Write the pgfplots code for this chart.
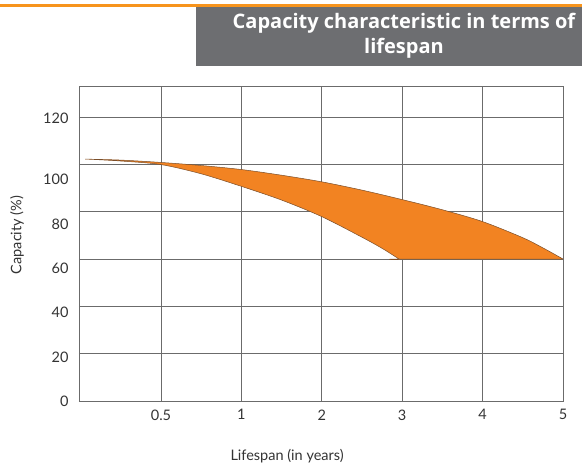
\documentclass[border=0pt]{standalone}
\usepackage{fontspec}
\setmainfont{Lato}
\newfontfamily\titlefont{Open Sans}
\usepackage{pgfplots}
\pgfplotsset{compat=1.18}

\definecolor{gridgray}{HTML}{6B6B6B}
\definecolor{txtgray}{HTML}{333333}
\definecolor{fillorange}{HTML}{F28322}
\definecolor{edgebrown}{HTML}{7A4E2A}
\definecolor{boxgray}{HTML}{6D6E71}
\definecolor{lineorange}{HTML}{F7941D}

\begin{document}
\begin{tikzpicture}
% page frame, 1pt = 1px of the reference
\path[use as bounding box] (-79pt,-63pt) rectangle (503pt,401pt);

% title banner
\fill[boxgray] (117pt,335pt) rectangle (503pt,394.3pt);
\draw[lineorange, line width=2.4pt] (-79pt,395.5pt) -- (503pt,395.5pt);
\node[anchor=base, text=white, font=\titlefont\fontsize{20}{22}\selectfont\bfseries]
  at (325pt,372.7pt) {Capacity characteristic in terms of};
\node[anchor=base, text=white, font=\titlefont\fontsize{20}{22}\selectfont\bfseries]
  at (325pt,347.7pt) {lifespan};

\begin{axis}[
  at={(0pt,0pt)}, anchor=south west,
  scale only axis,
  width=484pt, height=315pt,
  xmin=-0.02, xmax=6,
  ymin=0, ymax=133.1,
  axis line style={gridgray, line width=0.8pt},
  major tick length=0pt,
  xtick={1,2,3,4,5,6},
  xticklabels={0.5,1,2,3,4,5},
  ytick={0,20,40,60,80,100,120},
  yticklabels={,,,,,,},
  extra y ticks={0,18.6,37.6,56.2,74.8,93.8,119.6},
  extra y tick labels={0,20,40,60,80,100,120},
  extra y tick style={grid=none},
  xmajorgrids=true, ymajorgrids=true,
  grid style={gridgray, line width=0.8pt},
  /pgf/number format/assume math mode=true,
  tick label style={text=txtgray, font=\fontsize{14.5}{16}\selectfont},
  xticklabel style={yshift=-5pt},
  yticklabel style={xshift=-7pt},
  label style={text=txtgray, font=\fontsize{14.5}{16}\selectfont},
  xlabel={Lifespan (in years)},
  xlabel style={at={(axis description cs:0.43,-0.19)}, anchor=base},
  ylabel={Capacity (\%)},
  ylabel style={at={(axis description cs:-0.128,0.527)}, anchor=center},
]
% capacity band: upper limit left to right, then lower limit back;
% corner points are repeated so that the smoothing keeps them sharp
\addplot[fill=fillorange, draw=edgebrown, line width=0.5pt, smooth, tension=0.5] coordinates {
  (0.08,102.2) (0.08,102.2)
  (0.5,101.8) (1,100.8) (1.5,99.5) (2,97.8) (2.5,95.4)
  (3,92.6) (3.5,89.1) (4,85.1) (4.5,80.8) (5,75.8) (5.5,69.0)
  (5.75,64.7) (6,60) (6,60)
  (3.96,60) (3.96,60)
  (3.75,64.5) (3.5,69.2) (3,77.9) (2.5,84.9) (2,90.7)
  (1.5,96.0) (1,99.9) (0.5,101.4)
  (0.08,102.2) (0.08,102.2)
};
\end{axis}
\end{tikzpicture}
\end{document}
